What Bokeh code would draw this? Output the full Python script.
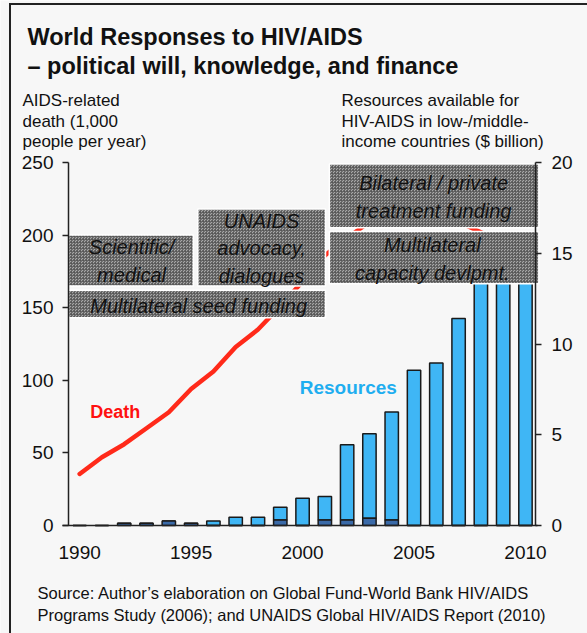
from bokeh.plotting import figure
from bokeh.models import (Range1d, LinearAxis, FixedTicker, Label,
                          ColumnDataSource, InlineStyleSheet)
from bokeh.core.properties import value
from bokeh.embed import file_html
from bokeh.resources import INLINE

# ---------------- data ----------------
years = list(range(1990, 2011))
death = [35.5, 47, 56, 67, 78, 94, 106, 123, 135, 151, 168, 186, 198, 209, 214,
         215, 213, 209, 202, 195, 190]
resources_total = [0, 0, 0.12, 0.12, 0.25, 0.12, 0.25, 0.45, 0.45, 1.0, 1.5, 1.6,
                   4.45, 5.05, 6.25, 8.55, 8.95, 11.4, 13.8, 15.6, 15.9]
resources_multilateral = [0, 0, 0.12, 0.12, 0.25, 0.12, 0, 0, 0, 0.3, 0, 0.3,
                          0.3, 0.4, 0.3, 0, 0, 0, 0, 0, 0]
x_ticks = [1990, 1995, 2000, 2005, 2010]
left_ticks = [0, 50, 100, 150, 200, 250]
right_ticks = [0, 5, 10, 15, 20]

box_labels = ["Scientific/\nmedical", "UNAIDS\nadvocacy,\ndialogues",
              "Multilateral seed funding",
              "Bilateral / private\ntreatment funding",
              "Multilateral\ncapacity devlpmt."]
box_left = [1989.5, 1995.3, 1989.5, 2001.2, 2001.2]
box_right = [1995.1, 2001.03, 2001.03, 2010.6, 2010.6]
box_bottom = [165, 165, 143, 205, 166.5]
box_top = [200, 218, 162, 249, 202.5]

# ---------------- geometry ----------------
BG = "#f7f7f7"
W, H = 587, 633
PX_L, PX_R, PY_T, PY_B = 68, 535, 162, 525      # plotting area in pixels
X0, X1 = 1989.5, 2010.45
Y0, Y1 = 0, 250
R0, R1 = 0, 20
sx = (PX_R - PX_L) / (X1 - X0)
sy = (PY_B - PY_T) / (Y1 - Y0)
sr = (PY_B - PY_T) / (R1 - R0)
x_range = Range1d(X0 - PX_L / sx, X1 + (W - PX_R) / sx)
y_range = Range1d(Y0 - (H - PY_B) / sy, Y1 + PY_T / sy)
r_range = Range1d(R0 - (H - PY_B) / sr, R1 + PY_T / sr)

p = figure(width=W, height=H, output_backend="svg", toolbar_location=None,
           x_range=x_range, y_range=y_range, x_axis_location=None,
           y_axis_location=None, min_border=0)
p.background_fill_color = BG
p.border_fill_color = BG
p.outline_line_color = None
p.grid.visible = False
p.extra_y_ranges = {"res": r_range}

# bars (stacked: multilateral dark part + remainder)
src = ColumnDataSource(dict(x=years, tot=resources_total, dark=resources_multilateral))
p.vbar(x="x", width=0.6, bottom="dark", top="tot", source=src, y_range_name="res",
       fill_color="#3fb6f5", line_color="#1a1a1a", line_width=1.5)
p.vbar(x="x", width=0.6, bottom=0, top="dark", source=src, y_range_name="res",
       fill_color="#3a6aa8", line_color="#1a1a1a", line_width=1.5)

# death line
p.line(years, death, line_color="#ff2a1a", line_width=4.5, line_cap="round",
       line_join="round")

# annotation boxes
bsrc = ColumnDataSource(dict(l=box_left, r=box_right, b=box_bottom, t=box_top))
p.quad(left="l", right="r", bottom="b", top="t", source=bsrc,
       fill_color="#a8a8a8", line_color="white", line_width=1.5,
       hatch_pattern="criss_cross", hatch_color="#555555", hatch_scale=3,
       hatch_weight=1, hatch_alpha=0.75)

# box texts
tx = [1992.33, 1998.16, 1995.34, 2005.88, 2005.82]
ty = [182.2, 190.8, 151.5, 226.3, 183.6]
p.text(x=tx, y=ty, text=box_labels, text_align="center", text_baseline="middle",
       text_font=value("Liberation Sans"), text_font_style="italic",
       text_font_size="20px", text_color="#111111", text_line_height=1.25)

# series labels
p.text(x=[1991.6], y=[78], text=["Death"], text_align="center",
       text_baseline="middle", text_font=value("Liberation Sans"),
       text_font_style="bold", text_font_size="18px", text_color="#ff1010")
p.text(x=[2002.05], y=[95], text=["Resources"], text_align="center",
       text_baseline="middle", text_font=value("Liberation Sans"),
       text_font_style="bold", text_font_size="19px", text_color="#1faef0")

# axes (fixed at the plotting-area edges)
def style_axis(ax):
    ax.axis_line_color = "#222222"
    ax.axis_line_width = 1.5
    ax.major_tick_line_color = "#222222"
    ax.major_tick_line_width = 1.5
    ax.minor_tick_line_color = None
    ax.major_label_text_font = "Liberation Sans"
    ax.major_label_text_font_size = "19px"
    ax.major_label_text_color = "#111111"

xa = LinearAxis(fixed_location=0, bounds=(X0 - 6 / sx, X1 + 2 / sx))
style_axis(xa)
xa.ticker = FixedTicker(ticks=x_ticks)
xa.major_tick_line_color = None
xa.major_tick_out = 0
xa.major_tick_in = 0
xa.major_label_standoff = 20
p.add_layout(xa, "below")

ya = LinearAxis(fixed_location=X0, bounds=(Y0, Y1))
style_axis(ya)
ya.ticker = FixedTicker(ticks=left_ticks)
ya.major_tick_out = 6
ya.major_tick_in = 0
ya.major_label_standoff = 9
p.add_layout(ya, "left")

ra = LinearAxis(fixed_location=X1, y_range_name="res", bounds=(R0, R1))
style_axis(ra)
ra.ticker = FixedTicker(ticks=right_ticks)
ra.major_tick_out = 6
ra.major_tick_in = 0
ra.major_label_standoff = 10
p.add_layout(ra, "right")

# texts around the chart (screen units, y measured from the bottom)
def lab(x_px, y_base_px, text, size, style="normal", color="#111111"):
    p.add_layout(Label(x=x_px, y=H - y_base_px, x_units="screen", y_units="screen",
                       text=text, text_font="Liberation Sans", text_font_size=size,
                       text_font_style=style, text_color=color,
                       text_baseline="alphabetic", text_align="left"))

lab(27, 36, "World Responses to HIV/AIDS", "23.5px", "bold")
lab(27, 65, "\u2013 political will, knowledge, and finance", "23.5px", "bold")
for i, t in enumerate(["AIDS-related", "death (1,000", "people per year)"]):
    lab(22, 100 + 20.5 * i, t, "17px")
for i, t in enumerate(["Resources available for", "HIV-AIDS in low-/middle-",
                       "income countries ($ billion)"]):
    lab(341, 100 + 20.5 * i, t, "17px")
lab(37, 592, "Source: Author\u2019s elaboration on Global Fund-World Bank HIV/AIDS", "16.5px")
lab(37, 614, "Programs Study (2006); and UNAIDS Global HIV/AIDS Report (2010)", "16.5px")

# page border (top and left edges of the slide frame)
p.stylesheets = [InlineStyleSheet(css="""
:host::after {
  content: '';
  position: absolute;
  left: 9px; top: 3px; width: 700px; height: 700px;
  border-top: 2px solid #222; border-left: 2px solid #222;
  pointer-events: none;
}
""")]

open("out.html", "w").write(file_html(p, INLINE))
